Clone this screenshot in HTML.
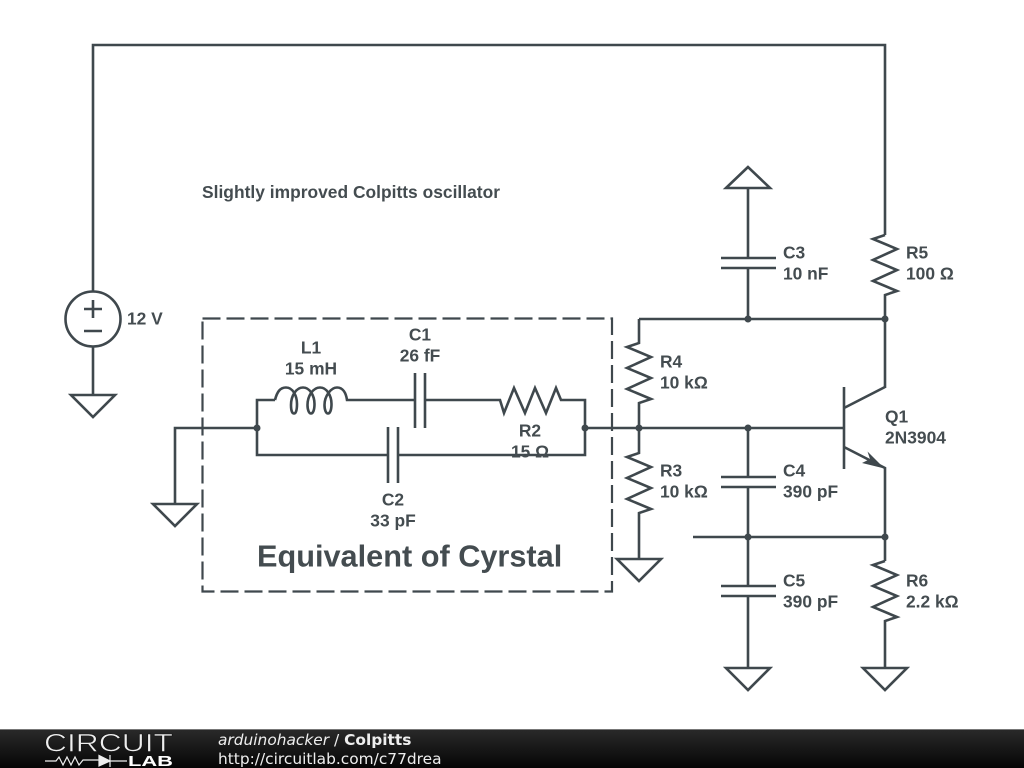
<!DOCTYPE html>
<html>
<head>
<meta charset="utf-8">
<style>
html,body{margin:0;padding:0;background:#fff;width:1024px;height:768px;overflow:hidden}
svg{display:block}
.l{font:bold 17.4px "Liberation Sans",sans-serif;fill:#444c50}
.w{fill:none;stroke:#3f484d;stroke-width:2.6;stroke-linejoin:miter;stroke-linecap:butt}
.d{fill:#3f484d}
</style>
</head>
<body>
<svg width="1024" height="768" viewBox="0 0 1024 768" xmlns="http://www.w3.org/2000/svg">
<defs>
<linearGradient id="g" x1="0" y1="0" x2="0" y2="1"><stop offset="0" stop-color="#2a2a2a"/><stop offset="1" stop-color="#050505"/></linearGradient>
</defs>
<rect width="1024" height="768" fill="#fff"/>

<!-- dashed box -->
<path d="M202.500 318.500H612V591.500H202.500V318.500" fill="none" stroke="#3f484d" stroke-width="2.200" stroke-dasharray="18 6"/>

<g class="w">
<!-- supply wire -->
<path d="M93 291V45H885V235"/>
<path d="M885 235L873 239L897 249L873 260L897 270L873 281L897 291L885 295V388"/>
<!-- voltage source -->
<circle cx="93" cy="319" r="27.500"/>
<path d="M93 347V395"/>
<path d="M71 395H115L93 417Z"/>
<path d="M84 309H102M93 300V318M84 331H102"/>
<!-- crystal equivalent -->
<path d="M175 504V428H257"/>
<path d="M153 504H197L175 526Z"/>
<path d="M275 400H257V455H388"/>
<path d="M275 400C277 392 280 387.500 286 387.500C293 387.500 297 396 297 404C297 410 296 413.500 294 413.500C292 413.500 291 410 291 405C291 396 296 387.500 303 387.500C310 387.500 314.500 396 314.500 404C314.500 410 313 413.500 311 413.500C309 413.500 307.500 410 307.500 405C307.500 396 313 387.500 320 387.500C327 387.500 331.500 396 331.500 404C331.500 410 330 413.500 328 413.500C326 413.500 324.500 410 324.500 405C324.500 396 331 387.500 337 387.500C343 387.500 346 393 347 400H415"/>
<path d="M415 373V428M425 373V428M425 400H500L504 413L514 388L525 413L535 388L546 413L556 388L561 400H585V455H398"/>
<path d="M388 427V483M398 427V483"/>
<path d="M585 428H845"/>
<!-- R4 / R3 -->
<path d="M639 319V343L627 347L651 357L627 368L651 378L627 389L651 399L639 403V453L627 457L651 467L627 478L651 488L627 499L651 509L639 513V559"/>
<path d="M617 559H661L639 581Z"/>
<!-- C3 -->
<path d="M748 167L726 188H770Z"/>
<path d="M748 188V258M721 258H776M721 268H776M748 268V319"/>
<path d="M639 319H885"/>
<!-- C4 C5 -->
<path d="M748 428V477M721 477H776M721 487H776M748 487V586M721 586H776M721 596H776M748 596V668"/>
<path d="M726 668H770L748 690Z"/>
<path d="M693 537H885"/>
<!-- Q1 -->
<path d="M844 387V469M844 408L885 387M844 447L885 468V561"/>
<!-- R6 -->
<path d="M885 561L873 565L897 575L873 586L897 596L873 607L897 617L885 621V668"/>
<path d="M863 668H907L885 690Z"/>
</g>
<path class="d" d="M884.500 468.500L867.500 451.500L870 459L862 463Z"/>

<g class="d">
<circle cx="257" cy="428" r="3.500"/>
<circle cx="585" cy="428" r="3.500"/>
<circle cx="639" cy="428" r="3.500"/>
<circle cx="748" cy="428" r="3.500"/>
<circle cx="748" cy="319" r="3.500"/>
<circle cx="885" cy="319" r="3.500"/>
<circle cx="748" cy="537" r="3.500"/>
<circle cx="885" cy="537" r="3.500"/>
</g>

<text class="l" x="202" y="198" textLength="298">Slightly improved Colpitts oscillator</text>
<text class="l" x="127" y="324.500">12 V</text>
<text class="l" x="311" y="353.500" text-anchor="middle">L1</text>
<text class="l" x="311" y="374.500" text-anchor="middle">15 mH</text>
<text class="l" x="420" y="340.500" text-anchor="middle">C1</text>
<text class="l" x="420" y="361.500" text-anchor="middle">26 fF</text>
<text class="l" x="530" y="436.500" text-anchor="middle">R2</text>
<text class="l" x="530" y="457.500" text-anchor="middle">15 Ω</text>
<text class="l" x="393" y="505.500" text-anchor="middle">C2</text>
<text class="l" x="393" y="526.500" text-anchor="middle">33 pF</text>
<text class="l" x="660" y="367.500">R4</text>
<text class="l" x="660" y="388.500">10 kΩ</text>
<text class="l" x="660" y="476.500">R3</text>
<text class="l" x="660" y="497.500">10 kΩ</text>
<text class="l" x="783" y="258.500">C3</text>
<text class="l" x="783" y="279.500">10 nF</text>
<text class="l" x="783" y="476.500">C4</text>
<text class="l" x="783" y="497.500">390 pF</text>
<text class="l" x="783" y="586.500">C5</text>
<text class="l" x="783" y="607.500">390 pF</text>
<text class="l" x="906" y="258.500">R5</text>
<text class="l" x="906" y="279.500">100 Ω</text>
<text class="l" x="885" y="422.500">Q1</text>
<text class="l" x="885" y="443.500">2N3904</text>
<text class="l" x="906" y="586.500">R6</text>
<text class="l" x="906" y="607.500">2.2 kΩ</text>
<text x="257" y="566.500" style="font:bold 30.7px 'Liberation Sans',sans-serif;fill:#444c50">Equivalent of Cyrstal</text>

<!-- footer -->
<rect x="0" y="729" width="1024" height="39" fill="url(#g)"/>
<rect x="0" y="729" width="1024" height="1" fill="#777"/>
<text x="44" y="751.500" textLength="129" lengthAdjust="spacingAndGlyphs" style="font:25px 'Liberation Sans',sans-serif;fill:#eee;stroke:#151515;stroke-width:.6">CIRCUIT</text>
<path d="M45 761H56L59 757L63 765L67 757L71 765L75 757L79 765L83 760H99M99 755.500V766L110 761ZM110 755V767M110 761H127" fill="none" stroke="#eee" stroke-width="1.200"/>
<path d="M99 755.500V766L110 761Z" fill="#eee"/>
<text x="128" y="766" textLength="45" lengthAdjust="spacingAndGlyphs" style="font:bold 15px 'Liberation Sans',sans-serif;fill:#fff">LAB</text>
<text x="218" y="745" style="font:15.4px 'DejaVu Sans',sans-serif;fill:#eee"><tspan font-style="italic">arduinohacker</tspan> / <tspan font-weight="bold">Colpitts</tspan></text>
<text x="218" y="764" style="font:15.4px 'DejaVu Sans',sans-serif;fill:#eee">http://circuitlab.com/c77drea</text>
</svg>
</body>
</html>
